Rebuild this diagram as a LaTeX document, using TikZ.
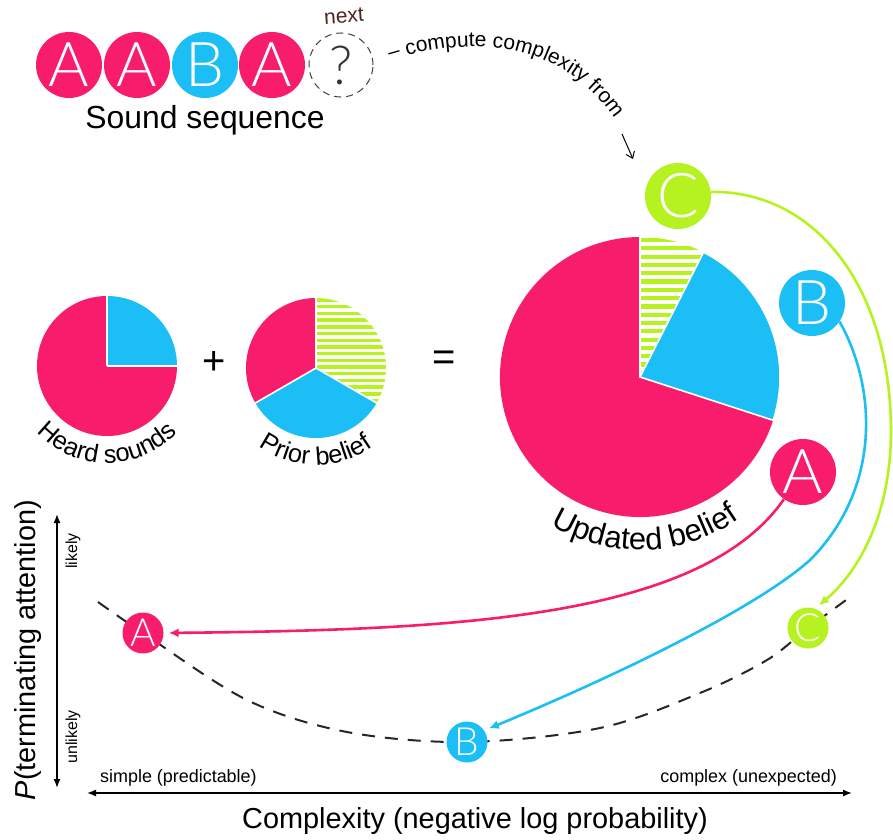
\documentclass[tikz,border=0pt]{standalone}
\usepackage{fontspec}
\setmainfont{Liberation Sans}
\newfontfamily\thinfont{Lato Light}
\usetikzlibrary{arrows.meta,decorations.text,calc}
\definecolor{hot}{RGB}{248,28,108}
\definecolor{sky}{RGB}{27,190,245}
\definecolor{lime}{RGB}{182,242,32}
\definecolor{nextc}{RGB}{80,35,35}
\newcommand\fsz[1]{\fontsize{#1}{#1}\selectfont}

\begin{document}
\begin{tikzpicture}[x=1bp,y=-1bp,
  ball/.style={circle, fill=#1, inner sep=0pt, minimum size=66bp, text=white, font=\thinfont\fsz{62}},
  dot/.style={circle, fill=#1, inner sep=0pt, minimum size=41bp, text=white, font=\thinfont\fsz{39}},
  link/.style={line width=2.6bp, draw=#1, -{Latex[length=10bp,width=9bp]}, shorten >=5bp},
  axis/.style={line width=1.4bp, {Latex[length=9bp,width=7bp]}-{Latex[length=9bp,width=7bp]}},
  sep/.style={white, line width=1.6bp},
]
\useasboundingbox (0,0) rectangle (893,840);

% ---- sound sequence -------------------------------------------------
\node[ball=hot] (s1) at (69,65) {A};
\node[ball=hot] (s2) at (137,65) {A};
\node[ball=sky] (s3) at (205,65) {B};
\node[ball=hot] (s4) at (272,65) {A};
\node[circle, draw=black!75, dash pattern=on 7bp off 5bp, line width=1bp,
      minimum size=64bp, inner sep=0pt, font=\thinfont\fsz{54}, text=black!80] (s5) at (341,65) {?};
\node[text=nextc, font=\fsz{21}, rotate=4] (nx) at (344,16) {next};
\node[font=\fsz{32}, anchor=base] (seq) at (205,128) {Sound sequence};

% curved caption and its arrow
\path[decorate, decoration={text along path, text align=left,
      text={|\fsz{21}|– compute complexity from}}]
  (390,60) .. controls (470,36) and (565,36) .. (622,130);
\coordinate (ct) at (622,134);
\coordinate (ch) at (633,159);
\draw[line width=1bp, -{Straight Barb[length=6bp,width=9bp]}] (ct) -- (ch);

% ---- heard sounds pie ---------------------------------------------------
\coordinate (hc) at (107,366);
\fill[hot] (hc) -- +(-90:70) arc[start angle=-90, end angle=-360, radius=70] -- cycle;
\fill[sky] (hc) -- +(0:70) arc[start angle=0, end angle=-90, radius=70] -- cycle;
\draw[sep] (hc) -- +(0:70) (hc) -- +(-90:70);
\path[decorate, decoration={text along path, text align=center,
      text={|\fsz{25.5}|Heard sounds}}]
  ($(hc)+(140:97)$) arc[start angle=140, end angle=40, radius=97];

\node[font=\fsz{40}] (plus) at (214,363) {+};

% ---- prior belief pie -----------------------------------------------------
\coordinate (pc) at (316,368);
\begin{scope}
  \clip (pc) -- +(-90:70) arc[start angle=-90, end angle=30, radius=70] -- cycle;
  \foreach \yy in {300,306.7,...,440} \draw[lime, line width=3.4bp] (300,\yy) -- (400,\yy);
\end{scope}
\fill[sky] (pc) -- +(30:70) arc[start angle=30, end angle=150, radius=70] -- cycle;
\fill[hot] (pc) -- +(150:70) arc[start angle=150, end angle=270, radius=70] -- cycle;
\draw[sep] (pc) -- +(30:70) (pc) -- +(150:70) (pc) -- +(270:70);
\path[decorate, decoration={text along path, text align=center,
      text={|\fsz{25.5}|Prior belief}}]
  ($(pc)+(140:97)$) arc[start angle=140, end angle=40, radius=97];

\node[font=\fsz{40}] (eq) at (444,361) {=};

% ---- updated belief pie ---------------------------------------------------
\coordinate (uc) at (640,377);
\begin{scope}
  \clip (uc) -- +(-90:140) arc[start angle=-90, end angle=-63, radius=140] -- cycle;
  \foreach \yy in {240,248.3,...,380} \draw[lime, line width=4.2bp] (630,\yy) -- (720,\yy);
\end{scope}
\fill[hot] (uc) -- +(18:140) arc[start angle=18, end angle=270, radius=140] -- cycle;
\begin{scope}[shift={(-22.5:3)}]
  \fill[sky, draw=white, line width=1.6bp] (uc) -- +(-63:140) arc[start angle=-63, end angle=18, radius=140] -- cycle;
\end{scope}
\draw[sep] (uc) -- +(-90:140);
\path[decorate, decoration={text along path, text align=center,
      text={|\fsz{31}|Updated belief}}]
  ($(uc)+(130:173)$) arc[start angle=130, end angle=46, radius=173];

% ---- candidate next sounds --------------------------------------------
\node[ball=lime] (C) at (678,196) {C};
\node[ball=sky]  (B) at (812,303) {B};
\node[ball=hot]  (A) at (803,472) {A};

% ---- axes -------------------------------------------------------------------
\coordinate (vt) at (57,514);
\coordinate (vb) at (57,788);
\draw[axis] (vt) -- (vb);
\coordinate (hl) at (87,793);
\coordinate (hr) at (852,793);
\draw[axis] (hl) -- (hr);
\node[font=\fsz{29}, rotate=90] (ylab) at (28,650) {\textit{P}(terminating attention)};
\node[font=\fsz{16}, rotate=90] (lik) at (73,551) {likely};
\node[font=\fsz{16}, rotate=90] (unl) at (73,737) {unlikely};
\node[font=\fsz{18}, anchor=base west, inner sep=0pt] (simp) at (100,782) {simple (predictable)};
\node[font=\fsz{18}, anchor=base east, inner sep=0pt] (comp) at (837,782) {complex (unexpected)};
\node[font=\fsz{29}, anchor=base, inner sep=0pt] (xlab) at (475,828) {Complexity (negative log probability)};

% ---- attention curve ------------------------------------------------------
\draw[dash pattern=on 13bp off 10bp, line width=2bp, black!85]
  plot[smooth, tension=0.55] coordinates {(98,602) (143,633) (247,700) (347,732) (467,742)
    (600,728) (700,693) (767,660) (808,628) (853,595)};
\node[dot=hot]  (Al) at (143,633) {A};
\node[dot=sky]  (Bl) at (467,742) {B};
\node[dot=lime] (Cl) at (808,628) {C};

% ---- mapping arrows -------------------------------------------------------
\draw[link=hot] (A.-125) .. controls (700,620) and (450,630) .. (Al.east);
\draw[link=sky] (B.-34) .. controls (878,390) and (880,490) .. (810,560)
  .. controls (760,605) and (630,670) .. (Bl.34);
\draw[link=lime] (C.7) .. controls (810,190) and (890,280) .. (891,430)
  .. controls (891,520) and (855,575) .. (Cl.70);
\end{tikzpicture}
\end{document}
